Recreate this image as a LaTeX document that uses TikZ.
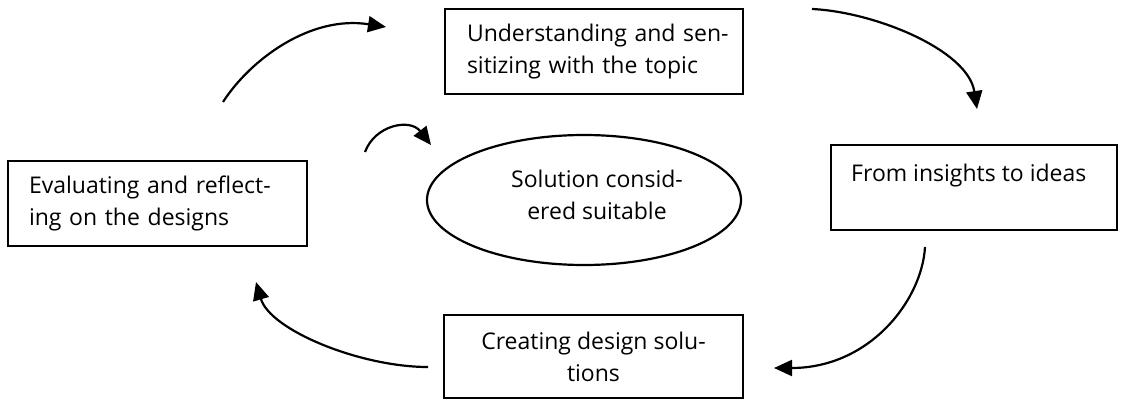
\documentclass[tikz,border=0pt]{standalone}
\usepackage{fontspec}
\setmainfont{Open Sans}
\usetikzlibrary{arrows.meta,shapes.geometric}
\begin{document}
\begin{tikzpicture}[x=1pt,y=-1pt,
  every node/.style={font=\fontsize{23}{32}\selectfont},
  stagebox/.style={draw=black, line width=2.2pt, rectangle, inner ysep=0pt},
  flow/.style={line width=2.2pt, -{Triangle[length=18pt,width=16pt]}}]
\useasboundingbox (0,0) rectangle (1124,401);

% stages of the cycle
\node[stagebox, align=left, text width=254pt, inner xsep=22pt, minimum height=85pt]
  (understand) at (594,51.5) {\mbox{Understanding and sen-}\\\mbox{sitizing with the topic}};
\node[stagebox, minimum width=286pt, minimum height=85pt] (ideas) at (974,187.5) {};
\node[anchor=west, inner sep=0pt] (ideastext) at (851,176) {From insights to ideas};
\node[stagebox, align=center, minimum width=299pt, minimum height=83pt]
  (create) at (593.5,356.5) {Creating design solu-\\tions};
\node[stagebox, align=left, text width=257pt, inner xsep=21pt, minimum height=85pt]
  (evaluate) at (157.5,203.5) {\mbox{Evaluating and reflect-}\\\mbox{ing on the designs}};

% outcome in the middle
\node[draw=black, line width=2.2pt, ellipse, minimum width=314pt, minimum height=130pt, inner sep=0pt]
  (solution) at (584,200) {};
\node[align=center, inner sep=0pt] (solutiontext) at (597,195) {Solution consid-\\ered suitable};

% free ends of the curved arrows
\coordinate (a1s) at (223,102);  \coordinate (a1e) at (386,27);
\coordinate (a2s) at (812,9);    \coordinate (a2e) at (977,109);
\coordinate (a3s) at (925,247);  \coordinate (a3e) at (774,368);
\coordinate (a4s) at (428,367);  \coordinate (a4e) at (256,282);
\coordinate (a5s) at (365,152);  \coordinate (a5e) at (431,145);

\draw[flow] (a1s) .. controls (250,60) and (310,15) .. (a1e);
\draw[flow] (a2s) .. controls (875,12) and (968,50) .. (a2e);
\draw[flow] (a3s) .. controls (922,300) and (870,368) .. (a3e);
\draw[flow] (a4s) .. controls (360,367) and (270,330) .. (a4e);
\draw[flow] (a5s) .. controls (375,125) and (410,118) .. (a5e);
\end{tikzpicture}
\end{document}
